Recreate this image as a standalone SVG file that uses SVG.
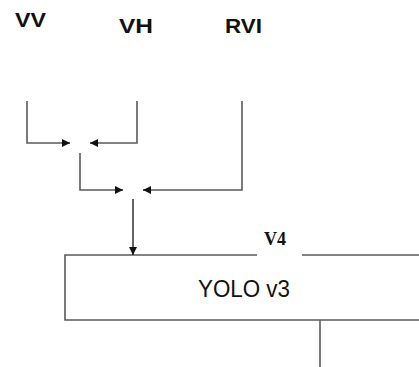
<svg xmlns="http://www.w3.org/2000/svg" width="419" height="367" viewBox="0 0 419 367">
<style>
.lbl{font-family:"Liberation Sans",Arial,sans-serif;font-weight:bold;font-size:21px;fill:#111}
.ln{fill:none;stroke:#5a5a5a;stroke-width:1.6}
.ar{fill:none;stroke:#222;stroke-width:1.4}
</style>
<defs>
<marker id="ah" viewBox="0 0 10 10" refX="10" refY="5" markerWidth="9" markerHeight="8" markerUnits="userSpaceOnUse" orient="auto">
<path d="M0,0 L10,5 L0,10 Z" fill="#111"/>
</marker>
</defs>
<rect width="419" height="367" fill="#fff"/>
<g id="vv"><text class="lbl" x="15" y="27" textLength="31" lengthAdjust="spacingAndGlyphs">VV</text></g>
<g id="vh"><text class="lbl" x="119" y="33" textLength="34" lengthAdjust="spacingAndGlyphs">VH</text></g>
<g id="rvi"><text class="lbl" x="225" y="33" textLength="37" lengthAdjust="spacingAndGlyphs">RVI</text></g>
<g id="yolo">
<path class="ln" d="M257,255 H65 V320 H419 M302,255 H419"/>
<text x="244" y="297" text-anchor="middle" font-family="Liberation Sans,Arial,sans-serif" font-size="23" fill="#111" textLength="92" lengthAdjust="spacingAndGlyphs">YOLO v3</text>
</g>
<g id="v4"><text x="275" y="245" text-anchor="middle" font-family="Liberation Serif,Times New Roman,serif" font-weight="bold" font-size="18" fill="#111">V4</text></g>
<g id="connectors">
<path class="ln" d="M27,101 V143 H62"/>
<path d="M62,143 H70" class="ar" marker-end="url(#ah)"/>
<path class="ln" d="M137,101 V143 H98"/>
<path d="M98,143 H90" class="ar" marker-end="url(#ah)"/>
<path class="ln" d="M80,153 V190 H115"/>
<path d="M115,190 H123" class="ar" marker-end="url(#ah)"/>
<path class="ln" d="M242,101 V190 H151"/>
<path d="M151,190 H143" class="ar" marker-end="url(#ah)"/>
<path d="M133,199 V255" class="ar" marker-end="url(#ah)"/>
<path class="ln" d="M320,320 V367"/>
</g>
</svg>
